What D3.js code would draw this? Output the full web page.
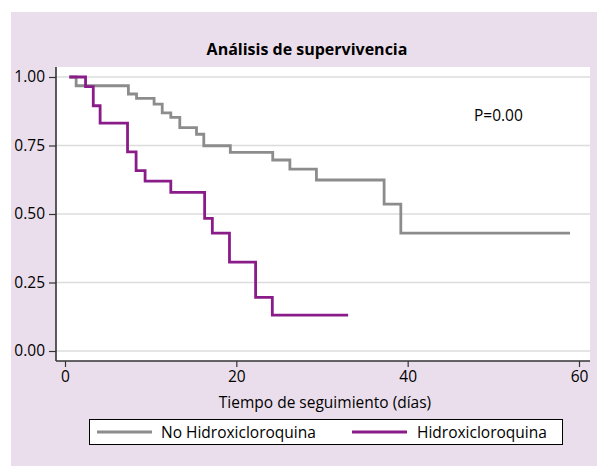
<!DOCTYPE html>
<html>
<head>
<meta charset="utf-8">
<script src="https://cdn.jsdelivr.net/npm/d3@7"></script>
<style>
html,body{margin:0;padding:0;background:#fff;}
svg{display:block;}
text{font-family:"Open Sans",sans-serif;fill:#000;}
</style>
</head>
<body>
<script>
// ---- data ----
const title = "Análisis de supervivencia";
const xLabel = "Tiempo de seguimiento (días)";
const pLabel = "P=0.00";
const seriesNames = ["No Hidroxicloroquina", "Hidroxicloroquina"];
const seriesColors = ["#8c8c8c", "#8a1c8a"];
const xTicks = [0, 20, 40, 60];
const yTicks = [0, 0.25, 0.5, 0.75, 1.0];
// step curves: times and survival (value after each time)
const noHcqTime = [0.5, 1.3, 7.4, 8.35, 10.4, 11.35, 12.35, 13.4, 15.35, 16.2, 19.3, 24.25, 26.25, 29.35, 37.25, 39.2, 58.95];
const noHcqSurv = [1.0, 0.968, 0.938, 0.922, 0.901, 0.869, 0.853, 0.815, 0.791, 0.749, 0.725, 0.697, 0.664, 0.624, 0.536, 0.43, 0.43];
const hcqTime = [0.5, 2.4, 3.3, 4.1, 7.3, 8.3, 9.35, 12.35, 16.3, 17.2, 19.2, 22.25, 24.2, 33.05];
const hcqSurv = [1.0, 0.965, 0.895, 0.832, 0.727, 0.658, 0.62, 0.579, 0.484, 0.43, 0.324, 0.196, 0.131, 0.131];

const W = 597, H = 466;
const FS = "15.5px";
const svg = d3.select("body").append("svg").attr("width", W).attr("height", H);

// outer pink panel
svg.append("rect").attr("x", 11).attr("y", 12).attr("width", W - 11).attr("height", H - 12).attr("fill", "#ebdeec");

const plot = {left: 56, right: 590, top: 67, bottom: 361};
svg.append("rect").attr("x", plot.left).attr("y", plot.top)
  .attr("width", plot.right - plot.left).attr("height", plot.bottom - plot.top).attr("fill", "#fff");

const x = d3.scaleLinear().domain([0, 60]).range([65, 579]);
const y = d3.scaleLinear().domain([0, 1]).range([351, 77]);

// gridlines
svg.append("g").selectAll("line").data(yTicks).join("line")
  .attr("x1", plot.left).attr("x2", plot.right)
  .attr("y1", d => y(d)).attr("y2", d => y(d))
  .attr("stroke", "#dcdcdc").attr("stroke-width", 1.5);

// axes
const yAxis = d3.axisLeft(y).tickValues(yTicks).tickFormat(d3.format(".2f")).tickSize(7).tickPadding(4);
const gy = svg.append("g").attr("transform", `translate(${plot.left},0)`).call(yAxis);
gy.select(".domain").attr("d", `M0,${plot.top}V${plot.bottom}`).attr("stroke", "#333").attr("stroke-width", 1.6);
gy.selectAll(".tick line").attr("stroke", "#333").attr("stroke-width", 1.2);
gy.selectAll(".tick text").style("font-family", "Open Sans").style("font-size", FS).attr("fill", "#000");

const xAxis = d3.axisBottom(x).tickValues(xTicks).tickSize(6).tickPadding(4);
const gx = svg.append("g").attr("transform", `translate(0,${plot.bottom})`).call(xAxis);
gx.select(".domain").attr("d", `M${plot.left},0H${plot.right}`).attr("stroke", "#333").attr("stroke-width", 1.6);
gx.selectAll(".tick line").attr("stroke", "#333").attr("stroke-width", 1.2);
gx.selectAll(".tick text").style("font-family", "Open Sans").style("font-size", FS).attr("fill", "#000");

// step curves
const line = d3.line().x(d => x(d[0])).y(d => y(d[1])).curve(d3.curveStepAfter);
const curves = [
  d3.zip(noHcqTime, noHcqSurv),
  d3.zip(hcqTime, hcqSurv)
];
svg.append("g").selectAll("path").data(curves).join("path")
  .attr("d", line).attr("fill", "none")
  .attr("stroke", (d, i) => seriesColors[i]).attr("stroke-width", 2.8)
  .attr("stroke-linejoin", "miter").attr("stroke-linecap", "butt");

// title
svg.append("text").attr("x", 307).attr("y", 55).attr("text-anchor", "middle")
  .style("font-size", "16px").style("font-weight", "bold").text(title);
// p label
svg.append("text").attr("x", 474).attr("y", 121).style("font-size", FS).text(pLabel);
// x label
svg.append("text").attr("x", 325).attr("y", 408).attr("text-anchor", "middle")
  .style("font-size", FS).text(xLabel);

// legend
const lg = svg.append("g");
lg.append("rect").attr("x", 89.5).attr("y", 419.5).attr("width", 473).attr("height", 25)
  .attr("fill", "#fff").attr("stroke", "#000").attr("stroke-width", 1);
const legendItems = [{x0: 97, x1: 152, tx: 161}, {x0: 352, x1: 407, tx: 417}];
legendItems.forEach((it, i) => {
  lg.append("line").attr("x1", it.x0).attr("x2", it.x1).attr("y1", 432).attr("y2", 432)
    .attr("stroke", seriesColors[i]).attr("stroke-width", 2.8);
  lg.append("text").attr("x", it.tx).attr("y", 437.5).style("font-size", FS).text(seriesNames[i]);
});
</script>
</body>
</html>
